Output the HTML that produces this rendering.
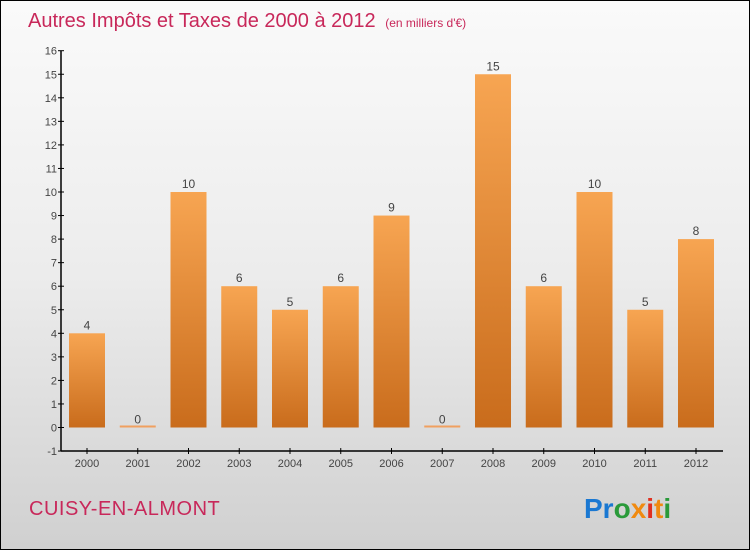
<!DOCTYPE html>
<html><head><meta charset="utf-8"><style>
body{margin:0;width:750px;height:550px;overflow:hidden}
#c{position:absolute;left:0;top:0;width:748px;height:548px;border:1px solid #000;background:linear-gradient(#fafafa 0%,#ececec 50%,#d0d0d0 100%)}
text{font-family:"Liberation Sans",sans-serif}
</style></head><body>
<div id="c">
<svg id="s" width="750" height="550">
<defs><linearGradient id="g" x1="0" y1="0" x2="0" y2="1"><stop offset="0" stop-color="#f7a552"/><stop offset="1" stop-color="#c96c1c"/></linearGradient></defs>
<text x="27" y="26" font-size="20" fill="#c8285a">Autres Impôts et Taxes de 2000 à 2012 <tspan font-size="12" dx="4">(en milliers d'€)</tspan></text>
<text x="28" y="514" font-size="20" fill="#c8285a" letter-spacing="0.5">CUISY-EN-ALMONT</text>
<text x="583" y="517" font-size="28" font-weight="bold"><tspan fill="#1a78d2">Pr</tspan><tspan fill="#2a9a3a">o</tspan><tspan fill="#f08a10">x</tspan><tspan fill="#e03020">i</tspan><tspan fill="#f08a10">t</tspan><tspan fill="#2a9a3a">i</tspan></text>
</svg></div>
<script>
const categories=["2000","2001","2002","2003","2004","2005","2006","2007","2008","2009","2010","2011","2012"];
const values=[4,0,10,6,5,6,9,0,15,6,10,5,8];
const yTicks=[-1,0,1,2,3,4,5,6,7,8,9,10,11,12,13,14,15,16];
const NS="http://www.w3.org/2000/svg",s=document.getElementById('s');
const y=v=>426.5-(v)*23.55, x=i=>86+i*50.75;
function mk(t,a,txt){const e=document.createElementNS(NS,t);for(const k in a)e.setAttribute(k,a[k]);if(txt!==undefined)e.textContent=txt;s.appendChild(e);return e;}
let ax=mk('line',{x1:60,y1:y(16),x2:60,y2:y(-1)+0.5,stroke:'#000','stroke-width':1.5});


let bx=mk('line',{x1:60,y1:y(-1),x2:722,y2:y(-1),stroke:'#000','stroke-width':1.5});


yTicks.forEach(v=>{
 let t=mk('line',{x1:57,x2:63,y1:y(v),y2:y(v),stroke:'#000'});
 
 
 let l=mk('text',{x:56,y:y(v)+4,'font-size':11,fill:'#444','text-anchor':'end'},v);
 
 
});
categories.forEach((c,i)=>{
 let t=mk('line',{x1:x(i),x2:x(i),y1:y(-1)-3,y2:y(-1)+3,stroke:'#000'});
 
 
 let l=mk('text',{x:x(i),y:y(-1)+16,'font-size':11,fill:'#444','text-anchor':'middle'},c);
 
 
 const v=values[i],h=Math.max(y(0)-y(v),2);
 let b=mk('rect',{x:x(i)-18,y:y(0)-h,width:36,height:h,fill:v>0?'url(#g)':'#f0a060'});
 
 
 let vl=mk('text',{x:x(i),y:y(v)-4,'font-size':12,fill:'#444','text-anchor':'middle'},v);
 
 
});
</script>
</body></html>
